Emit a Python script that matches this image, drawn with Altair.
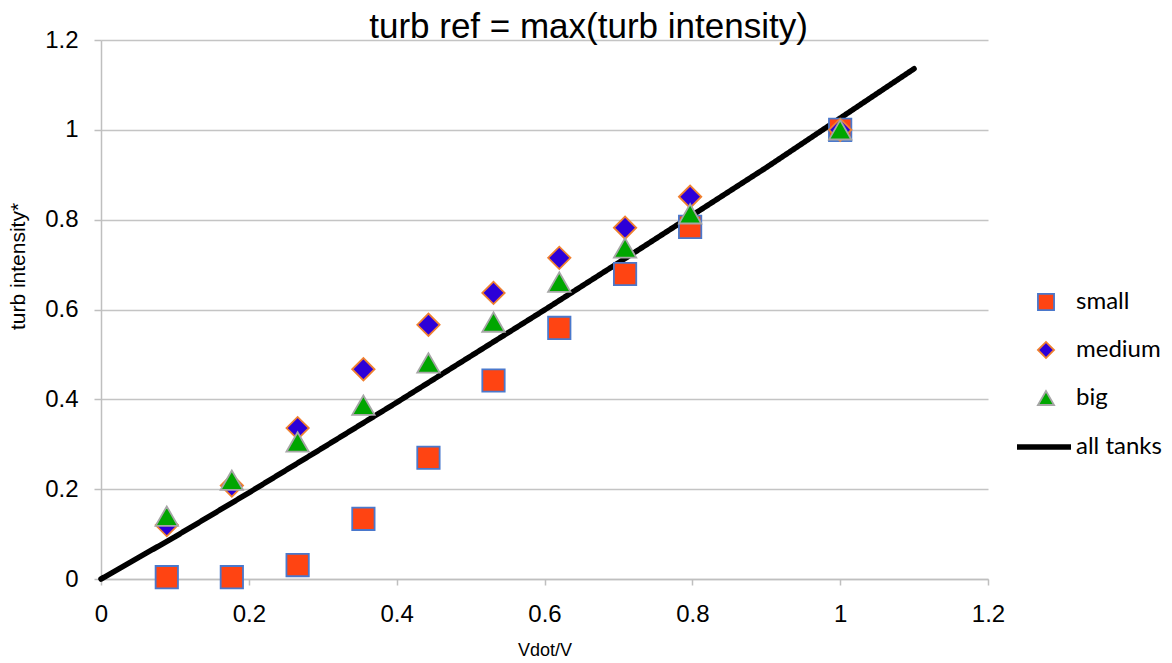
import altair as alt
import pandas as pd

# ---- data ----
x_vals = [0.089, 0.177, 0.266, 0.355, 0.443, 0.531, 0.620, 0.709, 0.797, 1.0]
small = [0.004, 0.004, 0.031, 0.134, 0.270, 0.442, 0.559, 0.679, 0.784, 1.0]
medium = [0.120, 0.208, 0.336, 0.467, 0.566, 0.637, 0.715, 0.782, 0.851, 1.0]
big = [0.140, 0.220, 0.305, 0.387, 0.481, 0.572, 0.661, 0.737, 0.813, 1.0]

line_x = [0.0, 0.1, 0.2, 0.3, 0.4, 0.5, 0.6, 0.7, 0.8, 0.9, 1.0, 1.1]
line_y = [0.0, 0.094, 0.192, 0.292, 0.393, 0.496, 0.599, 0.704, 0.810, 0.916, 1.026, 1.136]

series_names = ["small", "medium", "big"]
line_name = "all tanks"
x_ticks = [0, 0.2, 0.4, 0.6, 0.8, 1.0, 1.2]
y_ticks = [0, 0.2, 0.4, 0.6, 0.8, 1.0, 1.2]

fills = ["#FF4412", "#2C00D8", "#00A600"]
strokes = ["#4A78CC", "#F08030", "#A6A6A6"]
shapes = ["square", "diamond", "triangle-up"]

rows = []
for name, vals in zip(series_names, [small, medium, big]):
    for xv, yv in zip(x_vals, vals):
        rows.append({"x": xv, "y": yv, "series": name})
pts = pd.DataFrame(rows)
ln = pd.DataFrame({"x": line_x, "y": line_y, "kind": [line_name] * len(line_x)})

AX = "Liberation Sans"

x_enc = alt.X("x:Q", scale=alt.Scale(domain=[0, 1.2], nice=False),
              axis=alt.Axis(values=x_ticks, format="~g", title="Vdot/V", grid=False,
                            labelFlush=False,
                            domainColor="#BFBFBF", domainWidth=1.5, tickColor="#BFBFBF",
                            tickWidth=1.5, tickSize=6, labelFontSize=24, labelFont=AX,
                            labelColor="black", labelPadding=17, titleFont=AX, titleFontSize=18,
                            titleFontWeight="normal", titleColor="black", titlePadding=15))
y_enc = alt.Y("y:Q", scale=alt.Scale(domain=[0, 1.2], nice=False),
              axis=alt.Axis(values=y_ticks, format="~g", title="turb intensity*", grid=True,
                            labelFlush=False,
                            gridColor="#C4C4C4", gridWidth=1.5,
                            domainColor="#BFBFBF", domainWidth=1.5, tickColor="#BFBFBF",
                            tickWidth=1.5, tickSize=7, labelFontSize=24, labelFont=AX,
                            labelColor="black", labelPadding=16, titleFont=AX, titleFontSize=21,
                            titleFontWeight="normal", titleColor="black",
                            titleX=-83, titleY=226, titleBaseline="middle", titleAngle=270))

pt_leg = alt.Legend(
    title=None, orient="none", legendX=933, legendY=250,
    symbolSize=260, rowPadding=24, labelFont="Lato", labelFontSize=24,
    labelColor="black", labelOffset=18, padding=0, symbolStrokeWidth=1.8,
    symbolOpacity=1,
)
ln_leg = alt.Legend(
    title=None, orient="none", legendX=913, legendY=377,
    symbolType="stroke", symbolSize=2916, symbolStrokeColor="black",
    symbolStrokeWidth=5.5,
    labelFont="Lato", labelFontSize=24, labelColor="black", labelOffset=2, padding=0,
)

line = alt.Chart(ln).mark_line(color="black", strokeWidth=5.5, strokeCap="round",
                               strokeJoin="round").encode(
    x=x_enc, y=y_enc,
    strokeDash=alt.StrokeDash("kind:N", scale=alt.Scale(domain=[line_name], range=[[1, 0]]),
                              legend=ln_leg),
)

points = alt.Chart(pts).mark_point(filled=True, size=500, strokeWidth=1.8, opacity=1).encode(
    x=x_enc, y=y_enc,
    shape=alt.Shape("series:N", scale=alt.Scale(domain=series_names, range=shapes), legend=pt_leg),
    fill=alt.Fill("series:N", scale=alt.Scale(domain=series_names, range=fills), legend=pt_leg),
    stroke=alt.Stroke("series:N", scale=alt.Scale(domain=series_names, range=strokes),
                      legend=pt_leg),
)

chart = alt.layer(line, points).properties(
    width=887, height=539,
    title=alt.TitleParams("turb ref = max(turb intensity)", font=AX, fontSize=35,
                          fontWeight="normal", color="black", anchor="middle", dx=44,
                          dy=21, offset=4),
    autosize="none",
    padding={"left": 101, "top": 40, "right": 184, "bottom": 84},
    background="white",
).configure_view(stroke=None)

chart.save("out.html", embed_options={"renderer": "svg", "actions": False})
